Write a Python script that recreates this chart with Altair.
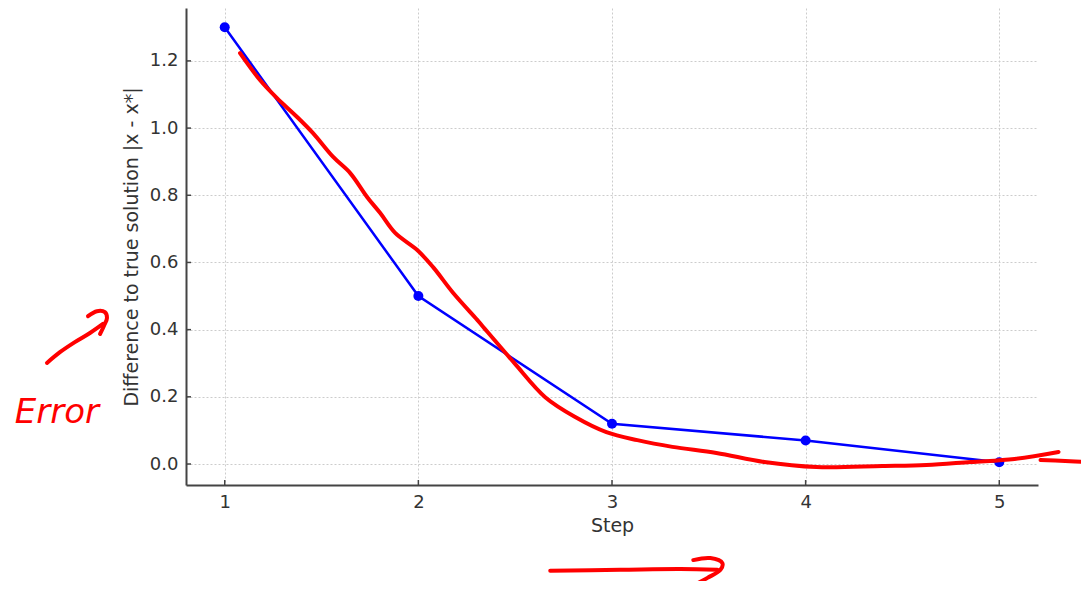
import altair as alt
import pandas as pd

# Main data
steps = [1, 2, 3, 4, 5]
errors = [1.3, 0.5, 0.12, 0.07, 0.005]

x_ticks = [1, 2, 3, 4, 5]
y_ticks = [0.0, 0.2, 0.4, 0.6, 0.8, 1.0, 1.2]

# Hand-drawn red annotations (in data units)
red_curve_x = [1.079, 1.182, 1.270, 1.374, 1.456, 1.560, 1.648, 1.735, 1.803, 1.880,
               1.994, 2.076, 2.180, 2.304, 2.335, 2.495, 2.655, 2.810, 2.971, 3.131,
               3.312, 3.539, 3.787, 4.056, 4.397, 4.624, 4.852, 5.079, 5.306]
red_curve_y = [1.223, 1.143, 1.089, 1.033, 0.985, 0.914, 0.866, 0.795, 0.747, 0.688,
               0.637, 0.586, 0.509, 0.429, 0.408, 0.301, 0.199, 0.140, 0.095, 0.071,
               0.051, 0.033, 0.006, -0.009, -0.006, -0.003, 0.006, 0.015, 0.036]
red_tail_x = [5.213, 5.34, 5.467]
red_tail_y = [0.012, 0.009, 0.006]
left_shaft_x = [0.082, 0.149, 0.226, 0.304, 0.371]
left_shaft_y = [0.301, 0.333, 0.363, 0.390, 0.417]
left_head_x = [0.294, 0.340, 0.381, 0.392, 0.376, 0.356]
left_head_y = [0.440, 0.455, 0.452, 0.435, 0.411, 0.387]
bottom_shaft_x = [2.681, 3.043, 3.353, 3.544]
bottom_shaft_y = [-0.318, -0.315, -0.3125, -0.315]
bottom_head_x = [3.420, 3.508, 3.570, 3.560, 3.493, 3.405]
bottom_head_y = [-0.286, -0.280, -0.295, -0.315, -0.339, -0.366]
note_text = ["Error"]
note_x = [-0.084]
note_y = [0.122]

strokes = [
    ("curve", red_curve_x, red_curve_y),
    ("tail", red_tail_x, red_tail_y),
    ("lshaft", left_shaft_x, left_shaft_y),
    ("lhead", left_head_x, left_head_y),
    ("bshaft", bottom_shaft_x, bottom_shaft_y),
    ("bhead", bottom_head_x, bottom_head_y),
]
rows = []
for name, xs_, ys_ in strokes:
    for i, (a, b) in enumerate(zip(xs_, ys_)):
        rows.append({"stroke": name, "seq": i, "x": a, "y": b})
ann = pd.DataFrame(rows)

main = pd.DataFrame({"x": steps, "y": errors})
xt = pd.DataFrame({"x": x_ticks})
yt = pd.DataFrame({"y": y_ticks})
note = pd.DataFrame({"x": note_x, "y": note_y, "t": note_text})

W, H = 852, 477
FONT = "DejaVu Sans"

xs = alt.Scale(domain=[0.8, 5.2], nice=False, zero=False)
ys = alt.Scale(domain=[-0.0625, 1.3575], nice=False, zero=False)

x_axis = alt.Axis(values=x_ticks, title="Step", format="d", ticks=False,
                  labelPadding=8, titlePadding=5, grid=True)
y_axis = alt.Axis(values=y_ticks, title="Difference to true solution |x - x*|",
                  format=".1f", ticks=False, labelPadding=8, titlePadding=8, grid=True)

X = alt.X("x:Q", scale=xs, axis=x_axis)
Y = alt.Y("y:Q", scale=ys, axis=y_axis)

blue_line = alt.Chart(main).mark_line(color="#0000ff", strokeWidth=2.5).encode(x=X, y=Y)
blue_pts = alt.Chart(main).mark_circle(color="#0000ff", size=100, opacity=1).encode(x=X, y=Y)

red = alt.Chart(ann).mark_line(color="#ff0000", strokeWidth=4, clip=False,
                               strokeCap="round", strokeJoin="round",
                               interpolate="catmull-rom").encode(
    x=X, y=Y, detail="stroke:N", order="seq:Q")

red_text = alt.Chart(note).mark_text(color="#ff0000", fontSize=34, font=FONT,
                                     fontStyle="italic", align="left",
                                     baseline="alphabetic", clip=False).encode(
    x=X, y=Y, text="t:N")

xtick_rules = alt.Chart(xt).mark_rule(color="#444444", strokeWidth=1.5).encode(
    x=X, y=alt.value(H), y2=alt.value(H - 5))
ytick_rules = alt.Chart(yt).mark_rule(color="#444444", strokeWidth=1.5).encode(
    y=Y, x=alt.value(0), x2=alt.value(5))

chart = alt.layer(xtick_rules, ytick_rules, blue_line, blue_pts, red, red_text).properties(
    width=W, height=H,
    autosize=alt.AutoSizeParams(type="none"),
    padding={"left": 178, "top": 0, "right": 43, "bottom": 96},
    background="white",
).configure_view(stroke=None).configure_axis(
    domainColor="#444444", domainWidth=2,
    gridColor="#cccccc", gridDash=[2, 2], gridWidth=1,
    labelFont=FONT, titleFont=FONT, labelFontSize=18, titleFontSize=19,
    labelColor="#333333", titleColor="#333333", titleFontWeight="normal",
)

chart.save("out.html", embed_options={"renderer": "svg", "actions": False})
